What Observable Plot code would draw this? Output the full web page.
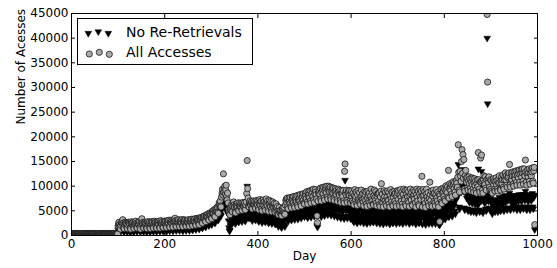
<!DOCTYPE html>
<html><head><meta charset="utf-8">
<script src="https://cdn.jsdelivr.net/npm/d3@7"></script>
<script src="https://cdn.jsdelivr.net/npm/@observablehq/plot@0.6"></script>
<style>body{margin:0;background:#fff} svg{display:block}</style>
</head><body><div id="chart"></div>
<script>
// Daily access counts, in hundreds of accesses, one value per day starting at day 0.
// "All Accesses" series, by century of days
const all0 = [3,2,4,3,2,3,4,2,3,3, 2,4,3,3,2,3,2,4,3,2, 3,3,2,4,3,2,3,3,4,2, 3,2,3,4,3,2,2,3,3,4, 3,3,2,3,4,3,2,3,3,2, 4,3,3,2,3,3,4,2,3,3, 2,3,4,3,2,3,3,2,4,3, 3,2,3,3,4,2,3,3,2,3, 4,3,2,3,3,2,4,3,3,2, 3,3,4,2,3,3,2,3,4,3];
const all1 = [19,24,27,22,17,13,21,26,28,24, 32,25,15,14,23,27,25,24,22,16, 14,22,27,26,25,23,15,13,24,28, 25,22,26,17,14,23,27,24,29,25, 16,15,24,27,25,22,28,17,13,25, 28,34,26,23,16,15,24,27,26,22, 25,15,14,26,28,23,25,27,16,14, 24,28,26,23,27,17,15,25,29,26, 24,27,16,15,26,28,25,23,29,17, 15,27,30,26,24,28,17,16,26,29];
const all2 = [27,25,29,18,16,27,30,28,25,31, 19,17,28,31,27,25,30,20,17,29, 32,29,35,30,20,18,29,31,28,26, 32,21,18,28,31,29,26,32,20,18, 29,32,30,27,31,21,19,28,31,29, 26,32,22,19,29,32,30,27,33,22, 20,30,33,31,28,34,23,21,31,34, 32,35,33,24,22,33,36,34,31,37, 27,25,36,39,37,34,40,30,28,39, 42,40,37,44,33,31,42,46,44,41];
const all3 = [36,34,46,50,47,44,52,40,38,50, 55,52,49,58,47,45,60,66,62,70, 60,58,78,86,94,82,125,88,96,100, 84,92,102,80,72,86,66,52,48,44, 42,54,58,62,50,48,60,66,68,62, 58,48,46,60,64,61,57,66,52,50, 62,66,60,57,65,54,51,63,67,62, 58,66,55,52,62,68,85,152,95,76, 60,58,66,70,64,61,68,56,54,66, 70,65,62,69,57,55,66,71,65,62];
const all4 = [70,56,52,65,73,68,61,70,54,50, 63,72,67,60,69,55,51,66,74,65, 60,70,53,49,64,71,65,58,69,52, 48,61,68,62,56,65,50,47,59,64, 56,49,59,45,42,53,57,50,45,51, 42,40,50,56,52,47,57,45,43,62, 71,74,66,76,58,54,70,76,70,65, 77,59,56,70,78,72,67,79,61,57, 71,79,74,68,81,62,58,72,82,75, 70,83,64,60,75,83,77,71,85,66];
const all5 = [64,78,86,81,75,89,68,64,80,89, 84,77,91,70,66,83,92,87,79,94, 72,67,85,93,88,83,74,40,26,70, 86,93,89,84,96,74,70,88,97,92, 85,98,76,72,90,99,94,87,100,78, 74,92,100,95,88,98,77,73,89,97, 93,86,96,75,71,88,95,90,83,93, 73,69,87,94,89,82,92,71,67,85, 91,86,79,91,70,66,130,145,87,83, 92,71,67,85,91,87,82,91,70,66];
const all6 = [84,90,77,70,86,66,62,81,93,74, 79,88,65,61,82,91,73,69,87,67, 63,78,92,80,72,85,68,60,75,89, 83,71,88,64,59,76,90,82,70,86, 67,61,80,94,73,69,87,64,62,81, 92,77,71,89,66,60,79,85,84,70, 86,63,59,78,90,105,68,84,66,58, 74,91,79,70,88,65,60,78,90,72, 71,87,64,58,81,93,75,69,88,63, 60,77,89,84,70,86,65,59,80,91];
const all7 = [86,73,90,65,60,82,93,77,70,88, 64,58,83,94,75,72,91,64,60,85, 92,78,70,89,67,59,79,94,84,72, 88,63,61,80,92,83,74,89,66,58, 82,94,77,70,90,63,60,84,93,78, 73,90,120,58,80,93,82,71,89,65, 57,84,94,78,71,87,66,60,76,108, 83,71,90,63,59,80,92,85,69,86, 66,60,82,93,76,70,88,64,58,84, 28,81,74,94,68,65,87,96,89,79];
const all8 = [94,74,70,91,101,94,87,99,78,132, 76,95,105,98,91,103,84,79,100,109, 103,95,107,88,82,101,112,106,98,118, 184,128,92,88,130,120,110,150,174,126, 164,116,154,94,90,122,132,116,108,118, 96,92,111,119,105,115,96,90,109,117, 103,115,94,88,107,115,101,111,92,86, 105,113,99,168,113,94,88,109,157,108, 163,111,92,86,113,121,107,103,119,96, 92,113,448,311,115,107,119,98,92,113];
const all9 = [94,111,90,86,107,115,103,111,94,90, 109,117,103,111,94,90,107,115,121,107, 94,92,111,119,105,113,123,98,94,113, 119,127,113,121,102,98,117,125,119,127, 144,102,98,119,127,113,121,129,104,100, 121,129,115,123,131,108,102,123,131,117, 125,133,108,102,125,133,119,127,135,110, 104,127,135,121,153,129,108,102,125,133, 119,127,135,110,104,125,133,121,129,137, 110,106,131,138,22];

// "No Re-Retrievals" series, by century of days
const nr0 = [2,1,2,2,1,2,3,1,2,2, 1,3,2,2,1,2,1,3,2,1, 2,2,1,3,2,1,2,2,3,1, 2,1,2,3,2,1,1,2,2,3, 2,2,1,2,3,2,1,2,2,1, 3,2,2,1,2,2,3,1,2,2, 1,2,3,2,1,2,2,1,3,2, 2,1,2,2,3,1,2,2,1,2, 3,2,1,2,2,1,3,2,2,1, 2,2,3,1,2,2,1,2,3,2];
const nr1 = [11,16,19,15,10,7,13,18,20,16, 22,17,8,7,15,19,17,16,14,9, 7,14,19,18,17,15,8,6,16,20, 17,14,18,9,7,15,19,16,21,17, 9,8,16,19,17,14,20,10,7,17, 20,24,18,15,9,8,16,19,18,14, 17,8,7,18,20,15,17,19,9,7, 16,20,18,15,19,10,8,17,21,18, 16,19,9,8,18,20,17,15,21,10, 8,19,22,18,16,20,10,9,18,21];
const nr2 = [18,16,20,10,8,17,21,19,16,22, 11,9,18,21,18,16,21,12,9,19, 22,19,24,20,12,10,19,21,19,17, 22,12,10,18,21,19,17,22,12,9, 19,22,20,18,21,12,10,18,21,19, 17,22,13,10,19,22,20,18,23,13, 11,20,23,21,19,24,14,12,21,24, 22,25,23,15,13,23,26,24,21,27, 17,15,25,28,26,24,29,19,17,28, 31,29,26,32,22,20,31,34,32,30];
const nr3 = [24,22,33,37,34,31,38,27,25,36, 41,38,35,43,33,31,45,48,44,50, 42,40,54,58,63,56,65,60,64,66, 58,62,66,54,48,57,44,30,16,9, 11,20,28,34,26,24,36,41,43,38, 35,26,24,37,41,38,34,43,29,27, 39,43,37,34,42,31,28,40,44,39, 35,43,32,29,39,45,60,100,64,50, 37,35,43,47,41,38,45,33,30,42, 47,42,39,46,34,31,43,48,42,39];
const nr4 = [46,31,28,42,48,43,37,46,30,26, 39,47,42,35,45,30,27,42,50,40, 36,46,29,25,40,47,41,33,45,28, 24,37,44,38,32,41,26,23,35,40, 32,25,35,21,18,29,33,26,21,27, 18,16,26,32,28,23,33,21,18,39, 45,49,40,51,33,29,45,51,45,39, 51,34,31,44,52,46,41,53,36,32, 45,53,48,42,55,37,33,46,56,49, 44,57,39,35,49,57,51,45,59,41];
const nr5 = [38,51,57,53,47,59,39,36,52,59, 55,49,60,41,37,54,61,57,51,62, 44,39,56,61,58,54,46,20,17,42, 54,60,57,52,61,42,38,55,62,58, 52,62,44,40,57,63,59,54,63,46, 42,58,63,60,55,62,45,41,56,61, 59,53,61,43,39,55,60,57,51,59, 41,37,54,59,56,50,58,39,35,52, 57,53,48,57,38,34,86,112,54,50, 58,39,35,52,57,54,49,57,38,34];
const nr6 = [47,54,40,33,50,30,27,46,55,38, 43,52,29,25,45,53,36,33,54,31, 27,41,56,42,34,49,32,25,38,53, 47,34,51,28,24,40,54,45,33,49, 31,26,44,57,36,33,51,28,27,44, 55,39,35,52,30,25,42,48,47,33, 50,27,24,41,53,60,32,47,30,23, 37,55,43,33,51,29,25,41,54,36, 34,50,28,23,44,56,38,33,52,27, 25,40,52,47,33,49,29,24,43,54];
const nr7 = [49,36,53,29,25,44,56,40,33,51, 28,24,45,57,38,35,54,29,26,47, 56,41,34,52,31,24,42,57,46,35, 51,28,26,43,55,45,37,52,30,23, 45,57,40,33,54,28,25,46,56,41, 36,53,93,23,43,56,44,34,52,30, 22,46,57,41,35,50,31,24,39,65, 45,34,53,28,24,43,55,47,32,49, 31,24,44,56,39,33,51,29,23,46, 21,43,37,57,32,29,49,59,52,42];
const nr8 = [55,36,33,51,61,53,47,59,39,70, 38,55,63,57,51,61,43,39,59,67, 63,60,77,50,44,72,92,84,78,96, 144,104,58,54,110,98,88,134,112,100, 116,90,108,56,52,92,100,84,76,86, 54,50,73,81,67,77,52,48,71,79, 65,77,52,48,69,77,63,73,50,46, 67,75,61,135,75,52,48,71,100,70, 130,73,50,46,75,83,69,65,81,54, 50,75,400,267,77,69,81,56,52,75];
const nr9 = [52,67,48,44,63,71,59,67,52,48, 65,73,59,67,52,48,63,71,77,63, 52,50,67,75,61,69,79,54,50,69, 75,81,67,77,56,52,71,79,73,81, 86,56,52,71,79,65,73,81,58,54, 71,79,65,73,81,58,52,73,81,69, 75,83,58,52,73,81,69,77,83,58, 54,77,83,71,90,79,58,52,73,81, 69,77,83,58,52,73,81,71,79,85, 58,54,77,82,12];

const xTicks = [0, 200, 400, 600, 800, 1000];
const yTicks = [0, 5000, 10000, 15000, 20000, 25000, 30000, 35000, 40000, 45000];
const seriesNames = ["No Re-Retrievals", "All Accesses"];
const unit = 100; // stored values are hundreds of accesses

const allVals = [].concat(all0, all1, all2, all3, all4, all5, all6, all7, all8, all9);
const nrVals = [].concat(nr0, nr1, nr2, nr3, nr4, nr5, nr6, nr7, nr8, nr9);
const toRows = (vals, name) => vals.map((v, i) => ({day: i, count: v * unit, series: name}));
const nrRows = toRows(nrVals, seriesNames[0]);
const allRows = toRows(allVals, seriesNames[1]);

const chart = Plot.plot({
  width: 557, height: 268,
  marginLeft: 71, marginRight: 20, marginTop: 13, marginBottom: 33,
  style: {fontFamily: "'DejaVu Sans', sans-serif", fontSize: "12px", background: "#fff", color: "#000"},
  x: {domain: [0, 1000]},
  y: {domain: [0, 45000]},
  marks: [
    Plot.dot(nrRows, {x: "day", y: "count", symbol: "triangle", rotate: 180, r: 2.5, fill: "#000", stroke: "#000", strokeWidth: 0.5, clip: true}),
    Plot.dot(allRows, {x: "day", y: "count", r: 3.1, fill: "#aaaaaa", stroke: "#000", strokeWidth: 0.7, clip: true}),
    Plot.frame({stroke: "#000", strokeWidth: 1}),
    Plot.axisX(xTicks, {anchor: "bottom", tickSize: -4, tickPadding: 8, tickFormat: d => String(d), label: null}),
    Plot.axisX(xTicks, {anchor: "top", tickSize: -4, tickFormat: () => "", label: null}),
    Plot.axisY(yTicks, {anchor: "left", tickSize: -4, tickPadding: 7, tickFormat: d => String(d), label: null}),
    Plot.axisY(yTicks, {anchor: "right", tickSize: -4, tickFormat: () => "", label: null}),
    Plot.text(["Day"], {frameAnchor: "bottom", dy: 24, fontSize: 12}),
    Plot.text(["Number of Acesses"], {frameAnchor: "left", dx: -50, rotate: -90, fontSize: 12})
  ]
});
document.getElementById("chart").appendChild(chart);

// Legend (upper left, inside the axes)
const svg = d3.select(chart);
const lg = svg.append("g").attr("font-family", "'DejaVu Sans', sans-serif").attr("font-size", 14).attr("text-anchor", "start");
lg.append("rect").attr("x", 77.5).attr("y", 18.5).attr("width", 175).attr("height", 46)
  .attr("fill", "#fff").attr("stroke", "#000").attr("stroke-width", 1);
const tri = d3.symbol(d3.symbolTriangle, 2.5 * 2.5 * Math.PI)();
[[88.3, 33.3], [98.3, 31.7], [108.3, 33.3]].forEach(([cx, cy]) => {
  lg.append("path").attr("d", tri).attr("transform", `translate(${cx},${cy}) rotate(180)`)
    .attr("fill", "#000").attr("stroke", "#000").attr("stroke-width", 0.5);
});
[[89.3, 54], [99.3, 52.3], [109.3, 54.3]].forEach(([cx, cy]) => {
  lg.append("circle").attr("cx", cx).attr("cy", cy).attr("r", 3.1)
    .attr("fill", "#aaaaaa").attr("stroke", "#000").attr("stroke-width", 0.7);
});
lg.append("text").attr("x", 126).attr("y", 32).attr("dy", "0.35em").attr("text-anchor", "start").text(seriesNames[0]);
lg.append("text").attr("x", 126).attr("y", 52.5).attr("dy", "0.35em").attr("text-anchor", "start").text(seriesNames[1]);
</script>
</body></html>
